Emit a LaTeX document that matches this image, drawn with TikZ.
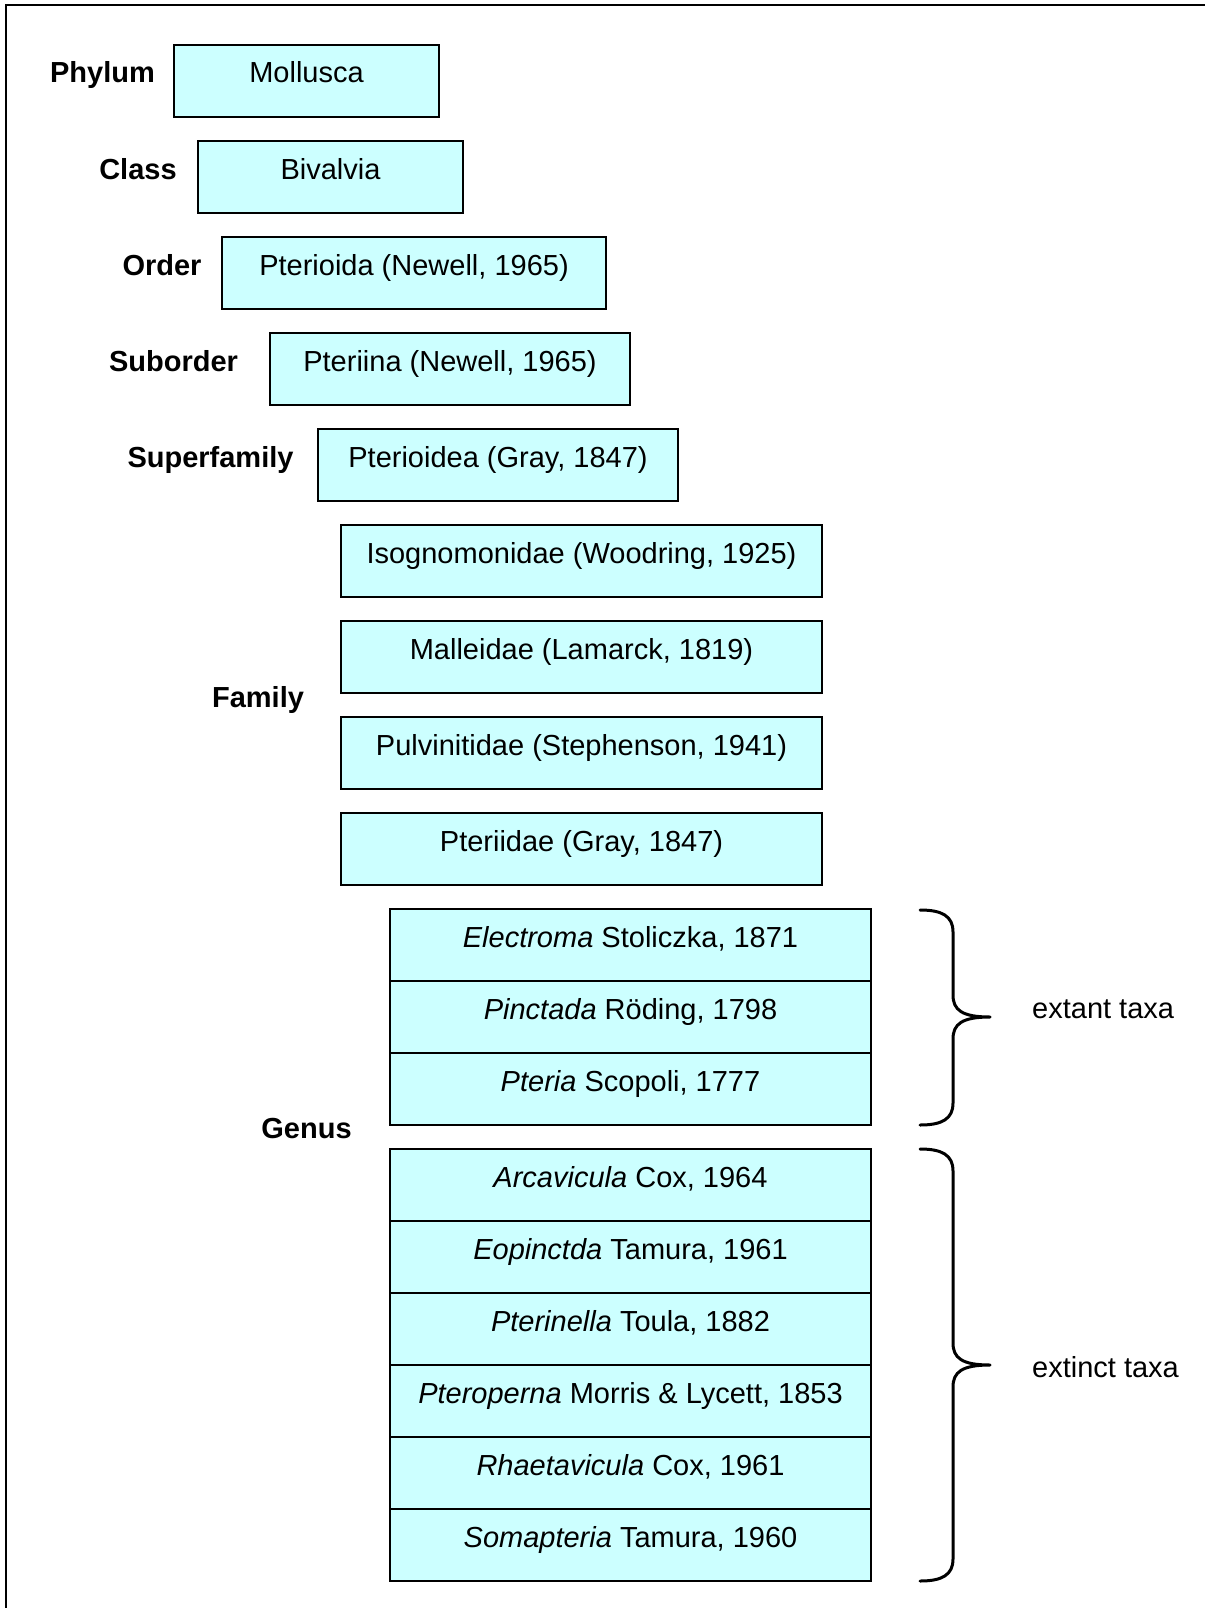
\documentclass[tikz,border=0pt]{standalone}
\usepackage{fontspec}
\setmainfont{Liberation Sans}
\definecolor{boxfill}{HTML}{CCFFFF}
\begin{document}
\begin{tikzpicture}[x=1pt,y=-1pt,
  font=\fontsize{29}{34}\selectfont,
  taxbox/.style={draw=black, fill=boxfill, line width=2pt, inner sep=0pt, outer sep=0pt,
    text height=38pt, text depth=34pt, anchor=north west, minimum width=#1},
  rank/.style={font=\fontsize{29}{34}\selectfont\bfseries, anchor=base, inner sep=0pt},
  note/.style={anchor=base west, inner sep=0pt},
  bracepath/.style={line width=3pt, line cap=round, line join=round}]
\useasboundingbox (0,0) rectangle (1204,1608);
% frame
\draw[line width=2pt] (6,1612) -- (6,5) -- (1208,5);

% rank labels
\node[rank] (lphylum) at (102.5,83) {Phylum};
\node[rank] (lclass) at (138,179) {Class};
\node[rank] (lorder) at (162,275) {Order};
\node[rank] (lsuborder) at (173.5,371) {Suborder};
\node[rank] (lsuperfamily) at (210.5,467) {Superfamily};
\node[rank] (lfamily) at (258,707) {Family};
\node[rank] (lgenus) at (306.5,1138) {Genus};

% boxes
\node[taxbox=265] (phylum) at (174,45) {Mollusca};
\node[taxbox=265] (class) at (198,141) {Bivalvia};
\node[taxbox=384] (order) at (222,237) {Pterioida (Newell, 1965)};
\node[taxbox=360] (suborder) at (270,333) {Pteriina (Newell, 1965)};
\node[taxbox=360] (superfamily) at (318,429) {Pterioidea (Gray, 1847)};
\node[taxbox=481] (fam1) at (341,525) {Isognomonidae (Woodring, 1925)};
\node[taxbox=481] (fam2) at (341,621) {Malleidae (Lamarck, 1819)};
\node[taxbox=481] (fam3) at (341,717) {Pulvinitidae (Stephenson, 1941)};
\node[taxbox=481] (fam4) at (341,813) {Pteriidae (Gray, 1847)};

\node[taxbox=481] (g1) at (390,909) {\textit{Electroma} Stoliczka, 1871};
\node[taxbox=481] (g2) at (390,981) {\textit{Pinctada} Röding, 1798};
\node[taxbox=481] (g3) at (390,1053) {\textit{Pteria} Scopoli, 1777};

\node[taxbox=481] (g4) at (390,1149) {\textit{Arcavicula} Cox, 1964};
\node[taxbox=481] (g5) at (390,1221) {\textit{Eopinctda} Tamura, 1961};
\node[taxbox=481] (g6) at (390,1293) {\textit{Pterinella} Toula, 1882};
\node[taxbox=481] (g7) at (390,1365) {\textit{Pteroperna} Morris \& Lycett, 1853};
\node[taxbox=481] (g8) at (390,1437) {\textit{Rhaetavicula} Cox, 1961};
\node[taxbox=481] (g9) at (390,1509) {\textit{Somapteria} Tamura, 1960};

% braces
\draw[bracepath] (920,910) .. controls (942,910) and (953,916) .. (953,932)
  -- (953,995) .. controls (953,1010) and (962,1017) .. (990,1017)
  .. controls (962,1017) and (953,1024) .. (953,1039)
  -- (953,1103) .. controls (953,1119) and (942,1125) .. (920,1125);
\draw[bracepath] (920,1149) .. controls (942,1149) and (953,1155) .. (953,1171)
  -- (953,1343) .. controls (953,1358) and (962,1365) .. (990,1365)
  .. controls (962,1365) and (953,1372) .. (953,1387)
  -- (953,1559) .. controls (953,1575) and (942,1581) .. (920,1581);

\node[note] (extant) at (1032,1018) {extant taxa};
\node[note] (extinct) at (1032,1377) {extinct taxa};
\end{tikzpicture}
\end{document}
